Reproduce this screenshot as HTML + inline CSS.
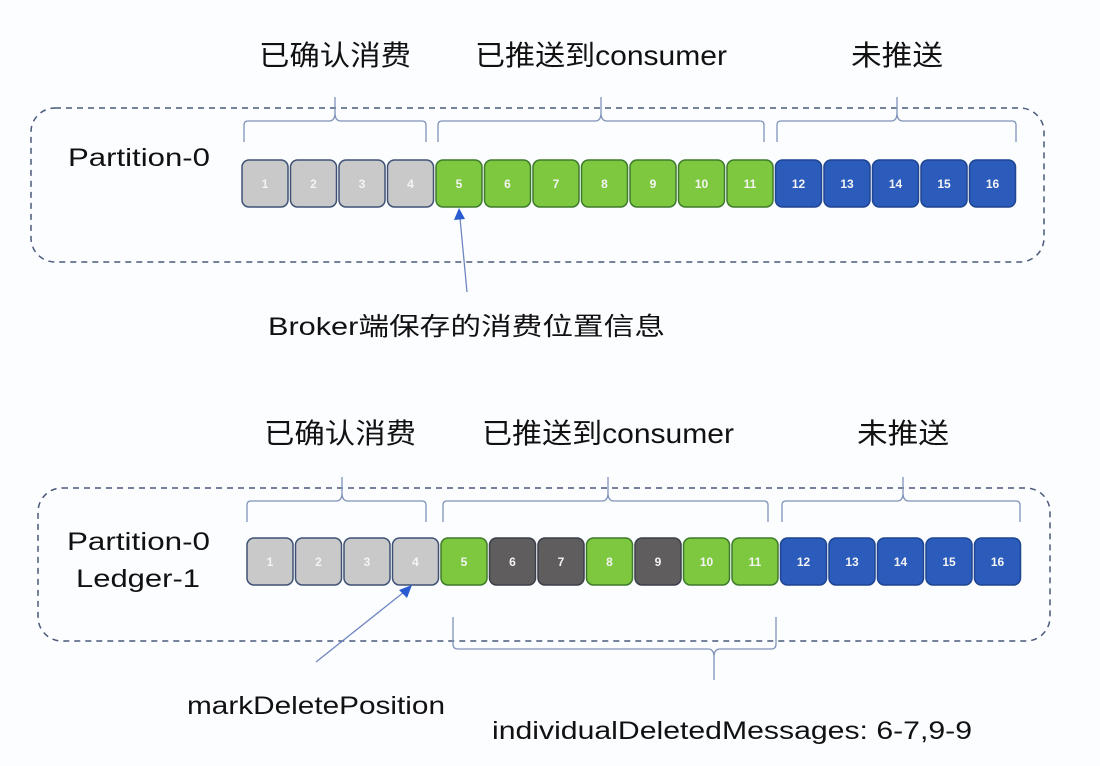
<!DOCTYPE html>
<html><head><meta charset="utf-8"><style>
html,body{margin:0;padding:0;background:#fcfdff;}
svg{display:block}
text{font-family:"Liberation Sans","Noto Sans CJK SC",sans-serif;}
</style></head><body>
<svg width="1100" height="766" viewBox="0 0 1100 766" xmlns="http://www.w3.org/2000/svg">
<g fill="#111" font-size="28">
<text x="335" y="65" text-anchor="middle" textLength="152" lengthAdjust="spacingAndGlyphs">已确认消费</text>
<text x="601" y="65" text-anchor="middle" textLength="252" lengthAdjust="spacingAndGlyphs">已推送到consumer</text>
<text x="897" y="65" text-anchor="middle" textLength="92" lengthAdjust="spacingAndGlyphs">未推送</text>
<text x="340" y="443" text-anchor="middle" textLength="152" lengthAdjust="spacingAndGlyphs">已确认消费</text>
<text x="608" y="443" text-anchor="middle" textLength="252" lengthAdjust="spacingAndGlyphs">已推送到consumer</text>
<text x="903" y="443" text-anchor="middle" textLength="92" lengthAdjust="spacingAndGlyphs">未推送</text>
</g>
<g fill="#111" font-size="25">
<text x="68" y="166" textLength="142" lengthAdjust="spacingAndGlyphs">Partition-0</text>
<text x="67" y="550" textLength="143" lengthAdjust="spacingAndGlyphs">Partition-0</text>
<text x="76" y="587" textLength="124" lengthAdjust="spacingAndGlyphs">Ledger-1</text>
<text x="268" y="335" textLength="397" lengthAdjust="spacingAndGlyphs">Broker端保存的消费位置信息</text>
<text x="187" y="714" textLength="258" lengthAdjust="spacingAndGlyphs">markDeletePosition</text>
<text x="492" y="739" textLength="480" lengthAdjust="spacingAndGlyphs">individualDeletedMessages: 6-7,9-9</text>
</g>
<rect x="31" y="108" width="1013" height="154" rx="24" fill="none" stroke="#4a5a7a" stroke-width="1.5" stroke-dasharray="6,5"/>
<rect x="38" y="488" width="1012" height="153" rx="24" fill="none" stroke="#4a5a7a" stroke-width="1.5" stroke-dasharray="6,5"/>
<g fill="none" stroke="#7f93b8" stroke-width="1.3">
<path d="M244,142 V125 Q244,121 248,121 H329 Q335,121 335,113 V97 M335,113 Q335,121 341,121 H422 Q426,121 426,125 V142"/>
<path d="M438,142 V125 Q438,121 442,121 H595 Q601,121 601,113 V97 M601,113 Q601,121 607,121 H760 Q764,121 764,125 V142"/>
<path d="M777,142 V125 Q777,121 781,121 H891 Q897,121 897,113 V97 M897,113 Q897,121 903,121 H1012 Q1016,121 1016,125 V142"/>
<path d="M247,522 V505 Q247,501 251,501 H336 Q342,501 342,493 V477 M342,493 Q342,501 348,501 H422 Q426,501 426,505 V522"/>
<path d="M443,522 V505 Q443,501 447,501 H602 Q608,501 608,493 V477 M608,493 Q608,501 614,501 H764 Q768,501 768,505 V522"/>
<path d="M782,522 V505 Q782,501 786,501 H897 Q903,501 903,493 V477 M903,493 Q903,501 909,501 H1016 Q1020,501 1020,505 V522"/>
<path d="M453,617 V644 Q453,649 458,649 H708 Q714,649 714,657 V680 M714,657 Q714,649 720,649 H771 Q776,649 776,644 V617"/>
</g>
<g stroke-width="1.5" font-size="12" font-weight="bold" fill="#fff" text-anchor="middle">
<g fill="#c9c9c9" stroke="#3f5275">
<rect x="242" y="160" width="46" height="47" rx="7"/><rect x="290.5" y="160" width="46" height="47" rx="7"/><rect x="339" y="160" width="46" height="47" rx="7"/><rect x="387.5" y="160" width="46" height="47" rx="7"/>
</g>
<g fill="#7dc83f" stroke="#3e7a2c">
<rect x="436" y="160" width="46" height="47" rx="7"/><rect x="484.5" y="160" width="46" height="47" rx="7"/><rect x="533" y="160" width="46" height="47" rx="7"/><rect x="581.5" y="160" width="46" height="47" rx="7"/><rect x="630" y="160" width="46" height="47" rx="7"/><rect x="678.5" y="160" width="46" height="47" rx="7"/><rect x="727" y="160" width="46" height="47" rx="7"/>
</g>
<g fill="#2b5bbb" stroke="#1f4590">
<rect x="775.5" y="160" width="46" height="47" rx="7"/><rect x="824" y="160" width="46" height="47" rx="7"/><rect x="872.5" y="160" width="46" height="47" rx="7"/><rect x="921" y="160" width="46" height="47" rx="7"/><rect x="969.5" y="160" width="46" height="47" rx="7"/>
</g>
<g stroke="none" fill="#f4f4f4">
<text x="265" y="188">1</text><text x="313.5" y="188">2</text><text x="362" y="188">3</text><text x="410.5" y="188">4</text><text x="459" y="188">5</text><text x="507.5" y="188">6</text><text x="556" y="188">7</text><text x="604.5" y="188">8</text><text x="653" y="188">9</text><text x="701.5" y="188">10</text><text x="750" y="188">11</text><text x="798.5" y="188">12</text><text x="847" y="188">13</text><text x="895.5" y="188">14</text><text x="944" y="188">15</text><text x="992.5" y="188">16</text>
</g>
<g fill="#c9c9c9" stroke="#3f5275">
<rect x="247" y="538" width="46" height="47" rx="7"/><rect x="295.5" y="538" width="46" height="47" rx="7"/><rect x="344" y="538" width="46" height="47" rx="7"/><rect x="392.5" y="538" width="46" height="47" rx="7"/>
</g>
<g fill="#7dc83f" stroke="#3e7a2c">
<rect x="441" y="538" width="46" height="47" rx="7"/><rect x="586.5" y="538" width="46" height="47" rx="7"/><rect x="683.5" y="538" width="46" height="47" rx="7"/><rect x="732" y="538" width="46" height="47" rx="7"/>
</g>
<g fill="#5f5d5d" stroke="#3a3f4a">
<rect x="489.5" y="538" width="46" height="47" rx="7"/><rect x="538" y="538" width="46" height="47" rx="7"/><rect x="635" y="538" width="46" height="47" rx="7"/>
</g>
<g fill="#2b5bbb" stroke="#1f4590">
<rect x="780.5" y="538" width="46" height="47" rx="7"/><rect x="829" y="538" width="46" height="47" rx="7"/><rect x="877.5" y="538" width="46" height="47" rx="7"/><rect x="926" y="538" width="46" height="47" rx="7"/><rect x="974.5" y="538" width="46" height="47" rx="7"/>
</g>
<g stroke="none" fill="#f4f4f4">
<text x="270" y="566">1</text><text x="318.5" y="566">2</text><text x="367" y="566">3</text><text x="415.5" y="566">4</text><text x="464" y="566">5</text><text x="512.5" y="566">6</text><text x="561" y="566">7</text><text x="609.5" y="566">8</text><text x="658" y="566">9</text><text x="706.5" y="566">10</text><text x="755" y="566">11</text><text x="803.5" y="566">12</text><text x="852" y="566">13</text><text x="900.5" y="566">14</text><text x="949" y="566">15</text><text x="997.5" y="566">16</text>
</g>
</g>
<line x1="467" y1="292" x2="460" y2="218" stroke="#6f86c0" stroke-width="1.3"/>
<polygon points="459,208 454,220 465,219" fill="#2b5bd0"/>
<line x1="316" y1="662" x2="404" y2="592" stroke="#6f86c0" stroke-width="1.3"/>
<polygon points="412,585 399,590 407,598" fill="#2b5bd0"/>
</svg>
</body></html>
